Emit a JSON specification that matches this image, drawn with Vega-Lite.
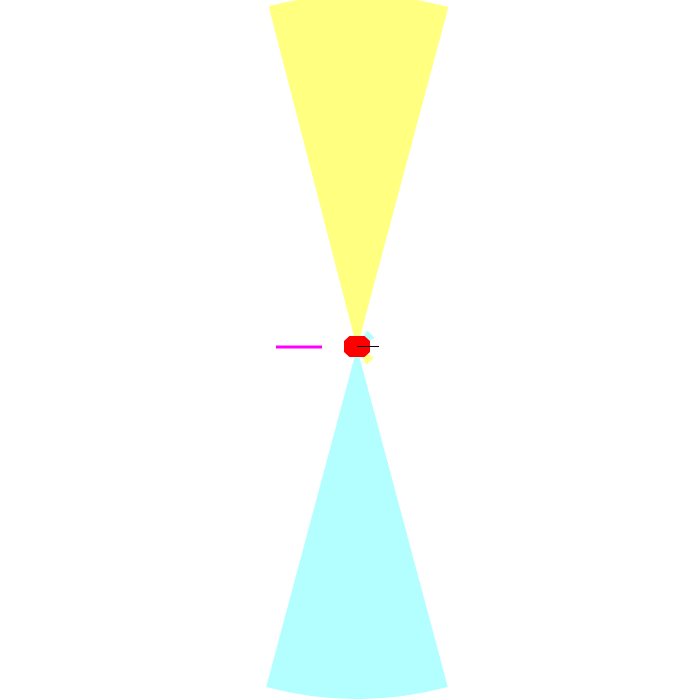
{
  "$schema": "https://vega.github.io/schema/vega-lite/v6.json",
  "autosize": {"type": "fit", "contains": "padding"},
  "width": 700,
  "height": 700,
  "padding": {"left": 14, "right": 0, "top": 0, "bottom": 6},
  "background": "white",
  "view": {"stroke": null},
  "datasets": {
    "wedges": [
      {"series": "north", "a0": -14.5, "a1": 15, "r": 353},
      {"series": "south", "a0": 165, "a1": 195, "r": 351},
      {"series": "south", "a0": 30, "a1": 60, "r": 20},
      {"series": "north", "a0": 120, "a1": 150, "r": 19}
    ],
    "center": [{"x": 0, "y": 1.5}],
    "lines": [
      {"series": "m", "x": -81, "x2": -35, "y": 1},
      {"series": "k", "x": 0.5, "x2": 22, "y": 1.5}
    ]
  },
  "layer": [
    {
      "data": {"name": "wedges"},
      "mark": {"type": "arc", "stroke": null},
      "encoding": {
        "theta": {"field": "a0", "type": "quantitative", "stack": null, "scale": {"domain": [0, 360], "range": [0, 6.283185307179586]}},
        "theta2": {"field": "a1"},
        "radius": {"field": "r", "type": "quantitative", "scale": {"type": "linear", "zero": true, "domain": [0, 352], "range": [0, 352]}},
        "color": {"field": "series", "type": "nominal", "legend": null, "scale": {"domain": ["north", "south"], "range": ["#ffff80", "#b3ffff"]}}
      }
    },
    {
      "data": {"name": "center"},
      "mark": {"type": "point", "filled": true, "opacity": 1, "color": "#ff0000", "size": 676, "shape": "M-1,-0.42L-0.58,-0.8L0.58,-0.8L1,-0.42L1,0.42L0.58,0.8L-0.58,0.8L-1,0.42Z"},
      "encoding": {
        "x": {"field": "x", "type": "quantitative", "axis": null, "scale": {"domain": [-343, 343]}},
        "y": {"field": "y", "type": "quantitative", "axis": null, "scale": {"domain": [-347, 347]}}
      }
    },
    {
      "data": {"name": "lines"},
      "mark": {"type": "rule"},
      "encoding": {
        "x": {"field": "x", "type": "quantitative", "axis": null, "scale": {"domain": [-343, 343]}},
        "x2": {"field": "x2"},
        "y": {"field": "y", "type": "quantitative", "axis": null, "scale": {"domain": [-347, 347]}},
        "color": {"field": "series", "type": "nominal", "legend": null, "scale": {"domain": ["m", "k"], "range": ["#ff00ff", "#000000"]}},
        "strokeWidth": {"field": "series", "type": "nominal", "legend": null, "scale": {"domain": ["m", "k"], "range": [3, 1]}}
      }
    }
  ],
  "resolve": {"scale": {"color": "independent"}}
}
